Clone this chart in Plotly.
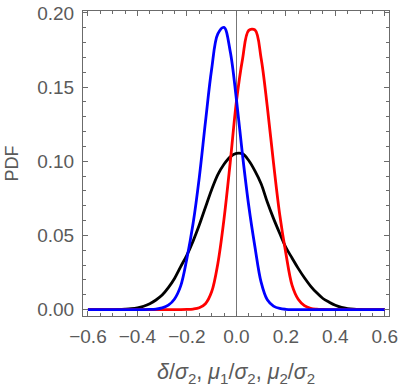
import plotly.graph_objects as go

# grade em delta/sigma2 (e mu1/sigma2, mu2/sigma2)
x_vals = [-0.6, -0.575, -0.55, -0.525, -0.5, -0.475, -0.45, -0.425, -0.4, -0.375,
          -0.35, -0.325, -0.3, -0.275, -0.25, -0.225, -0.2, -0.175, -0.15, -0.125,
          -0.1, -0.075, -0.05, -0.025, 0.0, 0.025, 0.05, 0.075, 0.1, 0.125,
          0.15, 0.175, 0.2, 0.225, 0.25, 0.275, 0.3, 0.325, 0.35, 0.375,
          0.4, 0.425, 0.45, 0.475, 0.5, 0.525, 0.55, 0.575, 0.6]

pdf_delta = [0, 0, 0, 0, 0, 0.0001, 0.0003, 0.0006, 0.0012, 0.0023,
             0.0040, 0.0065, 0.0098, 0.0148, 0.0210, 0.0290, 0.0368, 0.0462, 0.0570, 0.0690,
             0.0808, 0.0910, 0.0980, 0.1030, 0.1053, 0.1050, 0.1005, 0.0935, 0.0848, 0.0725,
             0.0615, 0.0515, 0.0420, 0.0348, 0.0278, 0.0215, 0.0159, 0.0113, 0.0075, 0.0050,
             0.0029, 0.0015, 0.0007, 0.0003, 0.0001, 0, 0, 0, 0]

pdf_mu1 = [0, 0, 0, 0, 0, 0, 0, 0, 0, 0,
           0, 0, 0, 0, 0, 0, 0.0001, 0.0004, 0.0013, 0.0040,
           0.0120, 0.0310, 0.0610, 0.0990, 0.1400, 0.1690, 0.1882, 0.1885, 0.1695, 0.1368,
           0.0991, 0.0644, 0.0380, 0.0165, 0.0070, 0.0027, 0.0009, 0.0003, 0.0001, 0,
           0, 0, 0, 0, 0, 0, 0, 0, 0]

pdf_mu2 = [0, 0, 0, 0, 0, 0, 0, 0, 0, 0,
           0.0001, 0.0004, 0.0012, 0.0030, 0.0072, 0.0160, 0.0345, 0.0580, 0.0890, 0.1265,
           0.1620, 0.1858, 0.1902, 0.1742, 0.1420, 0.1040, 0.0700, 0.0424, 0.0185, 0.0066,
           0.0024, 0.0008, 0.0002, 0, 0, 0, 0, 0, 0, 0,
           0, 0, 0, 0, 0, 0, 0, 0, 0]

x_ticks = [-0.6, -0.4, -0.2, 0.0, 0.2, 0.4, 0.6]
y_ticks = [0.0, 0.05, 0.10, 0.15, 0.20]

COR_EIXO = '#6b6b6b'
COR_TEXTO = '#5a5a5a'
FONTE = 'Liberation Sans, Arial, sans-serif'

fig = go.Figure()

# ordem: preto, vermelho, azul (azul por cima)
for y, cor in [(pdf_delta, 'black'), (pdf_mu1, '#ff0000'), (pdf_mu2, '#0000ff')]:
    fig.add_trace(go.Scatter(
        x=x_vals,
        y=y,
        mode='lines',
        line=dict(color=cor, width=2.8, shape='spline', smoothing=1),
        showlegend=False
    ))

eixo_comum = dict(
    showgrid=False,
    showline=True,
    linecolor=COR_EIXO,
    linewidth=1,
    mirror='allticks',
    ticks='inside',
    tickcolor=COR_EIXO,
    ticklen=5,
    tickwidth=1,
    automargin=False,
    tickfont=dict(family=FONTE, size=19, color=COR_TEXTO),
)

fig.update_layout(
    width=400,
    height=390,
    paper_bgcolor='white',
    plot_bgcolor='white',
    margin=dict(l=83, r=11, t=11, b=74),
    xaxis=dict(
        **eixo_comum,
        range=[-0.62, 0.617],
        tickvals=x_ticks,
        tickformat='.1f',
        zeroline=True,
        zerolinecolor='#777777',
        zerolinewidth=1,
        ticklabelstandoff=3,
        minor=dict(dtick=0.05, tick0=0, ticks='inside', ticklen=3, tickcolor=COR_EIXO),
    ),
    yaxis=dict(
        **eixo_comum,
        range=[-0.0043, 0.2013],
        tickvals=y_ticks,
        tickformat='.2f',
        zeroline=False,
        ticklabelstandoff=4,
        minor=dict(dtick=0.01, tick0=0, ticks='inside', ticklen=3, tickcolor=COR_EIXO),
    ),
    annotations=[
        dict(
            text='PDF', xref='paper', yref='paper', x=0, y=0.5,
            xanchor='center', yanchor='middle',
            xshift=-72, textangle=-90, showarrow=False,
            font=dict(family=FONTE, size=18, color=COR_TEXTO)
        ),
        dict(
            text=('<i>δ</i>/<i>σ</i><sub>2</sub>, <i>μ</i><sub>1</sub>/<i>σ</i><sub>2</sub>, '
                  '<i>μ</i><sub>2</sub>/<i>σ</i><sub>2</sub>'),
            xref='paper', yref='paper', x=0.5, y=0, yshift=-57,
            yanchor='middle', showarrow=False,
            font=dict(family=FONTE, size=21.5, color=COR_TEXTO)
        ),
    ],
)

# sem margem do body, para a figura ocupar a janela toda
fig.write_html("out.html", config={'displayModeBar': False},
               post_script="document.body.style.margin='0';")
